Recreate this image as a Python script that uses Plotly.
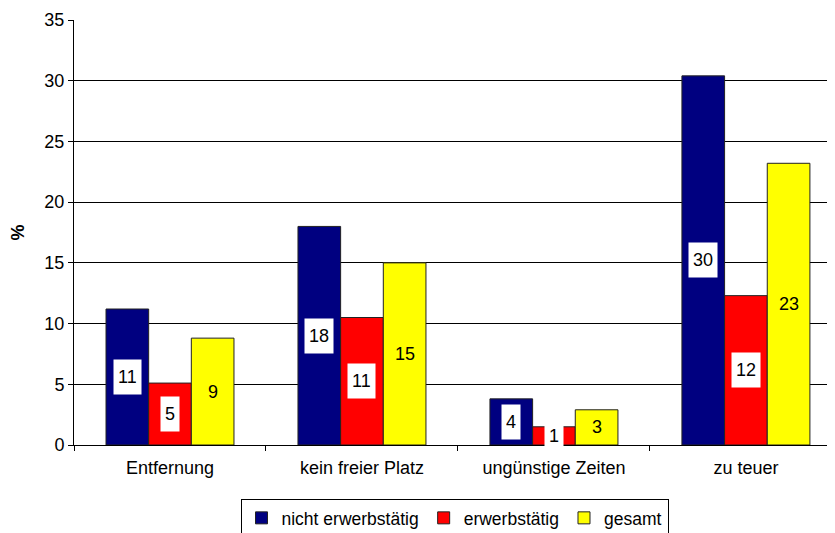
import plotly.graph_objects as go

categories = ["Entfernung", "kein freier Platz", "ungünstige Zeiten", "zu teuer"]
series_names = ["nicht erwerbstätig", "erwerbstätig", "gesamt"]
nicht_erwerbstaetig = [11.2, 18.0, 3.8, 30.4]
erwerbstaetig = [5.1, 10.5, 1.5, 12.3]
gesamt = [8.8, 15.0, 2.9, 23.2]
labels = [[11, 18, 4, 30], [5, 11, 1, 12], [9, 15, 3, 23]]
series_values = [nicht_erwerbstaetig, erwerbstaetig, gesamt]
colors = ["#000080", "#FF0000", "#FFFF00"]
label_bg = ["white", "white", "rgba(0,0,0,0)"]
y_ticks = [0, 5, 10, 15, 20, 25, 30, 35]

FONT = "Liberation Sans, Arial, sans-serif"
FS = 18
bargap = 1 / 3
bar_w = (1 - bargap) / 3

fig = go.Figure()
for name, vals, col in zip(series_names, series_values, colors):
    fig.add_trace(go.Bar(
        name=name, x=categories, y=vals,
        marker=dict(color=col, line=dict(color="#222222", width=1)),
    ))

annotations = []
for s, (vals, labs, bg) in enumerate(zip(series_values, labels, label_bg)):
    offset = (s - 1) * bar_w
    for i, (v, lab) in enumerate(zip(vals, labs)):
        annotations.append(dict(
            x=i + offset, y=v / 2, xref="x", yref="y",
            text=str(lab),
            showarrow=False, font=dict(family=FONT, size=FS, color="black"),
            bgcolor=bg, borderpad=4, height=26,
        ))

# page body has an 8px default margin, so the figure is shifted by 8px
fig.update_layout(
    width=827, height=525,
    margin=dict(l=66, r=0, t=12, b=88, autoexpand=False),
    paper_bgcolor="white", plot_bgcolor="white",
    barmode="group", bargap=bargap, bargroupgap=0,
    font=dict(family=FONT, size=FS, color="black"),
    annotations=annotations,
    showlegend=True,
    legend=dict(
        orientation="h", x=0.5, xanchor="center", y=-0.127, yanchor="top",
        bordercolor="black", borderwidth=1, font=dict(family=FONT, size=17.5),
        itemwidth=30, tracegroupgap=0,
    ),
    xaxis=dict(
        range=[-0.5, 3.464], showline=True, linecolor="black", linewidth=1,
        ticks="outside", tickson="boundaries", ticklen=5, tickcolor="black",
        showgrid=False, tickfont=dict(family=FONT, size=FS), automargin=False,
        ticklabelstandoff=6,
    ),
    yaxis=dict(
        range=[0, 35], tickvals=y_ticks, showline=True, linecolor="black", linewidth=1,
        ticks="outside", ticklen=5, tickcolor="black",
        showgrid=True, gridcolor="black", gridwidth=1, zeroline=False,
        tickfont=dict(family=FONT, size=FS), automargin=False,
        title=dict(text="<b>%</b>", font=dict(family=FONT, size=FS), standoff=16),
    ),
)

fig.write_html("out.html")
